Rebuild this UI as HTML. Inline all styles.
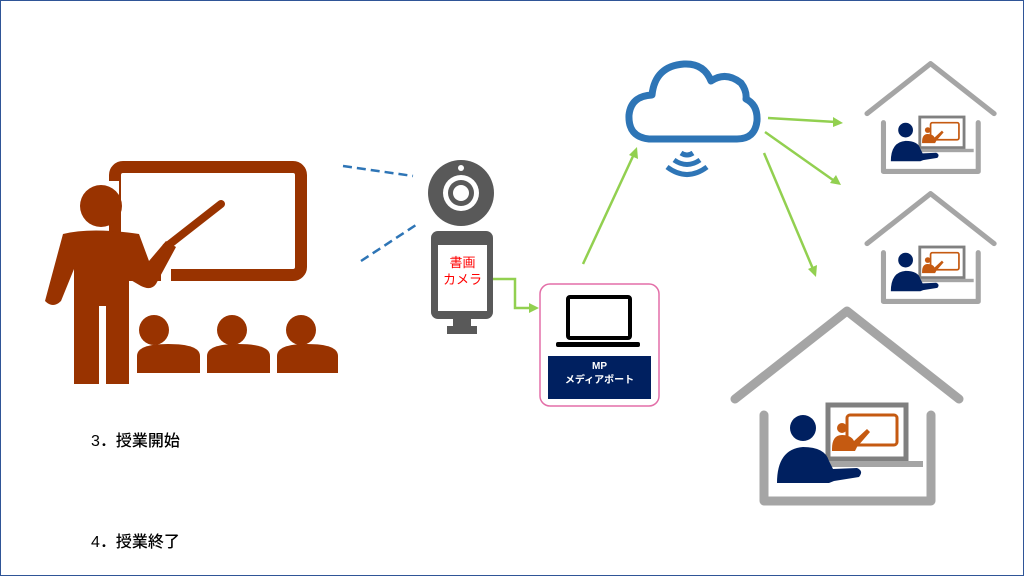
<!DOCTYPE html>
<html><head><meta charset="utf-8"><style>
html,body{margin:0;padding:0;background:#fff}
.wrap{position:relative;width:1024px;height:576px;overflow:hidden;box-sizing:border-box;border:1px solid #2f5597}
svg{position:absolute;left:0;top:0}
.t{position:absolute;font-family:"Liberation Sans","Noto Sans CJK JP",sans-serif;}
</style></head><body><div class="wrap">
<svg width="1024" height="576" viewBox="0 0 1024 576">
<defs>
<symbol id="house" viewBox="0 0 250 215" overflow="visible">
<polyline points="14,98 126,10 238,98" fill="none" stroke="#a5a5a5" stroke-width="9" stroke-linecap="round" stroke-linejoin="round"/>
<polyline points="43,114 43,200 210,200 210,114" fill="none" stroke="#a5a5a5" stroke-width="9" stroke-linecap="round" stroke-linejoin="round"/>
<rect x="107" y="104" width="78" height="54" fill="#fff" stroke="#808080" stroke-width="5"/>
<rect x="126" y="114" width="50" height="30" rx="3" fill="none" stroke="#c55a11" stroke-width="3"/>
<circle cx="121" cy="127" r="5" fill="#c55a11"/>
<path d="M111 148 Q111 134 121 134 Q130 134 133 140 L146 128 L149 131 L136 146 L134 150 L111 150Z" fill="#c55a11"/>
<rect x="100" y="160" width="102" height="6" fill="#a5a5a5"/>
<circle cx="82" cy="127" r="13" fill="#002060"/>
<path d="M56 182 Q56 148 82 146 Q104 146 108 160 L112 168 L136 167 Q143 170 138 176 L113 180 L108 182Z" fill="#002060"/>
</symbol>
</defs>
<!-- teacher -->
<g fill="#993300">
<rect x="114" y="166" width="186" height="108" rx="8" fill="none" stroke="#993300" stroke-width="12"/>
<rect x="100" y="180" width="18" height="30" fill="#fff"/>
<rect x="160" y="268" width="10" height="16" fill="#fff"/>
<circle cx="100" cy="205" r="21"/>
<path d="M62 233 Q90 226 138 233 L148 260 L165 240 L175 246 L155 283 Q150 290 140 285 L128 278 L128 383 L105 383 L105 305 L98 305 L98 383 L73 383 L73 268 L60 300 Q52 308 44 300 Z"/>
<line x1="165" y1="246" x2="220" y2="203" stroke="#993300" stroke-width="8" stroke-linecap="round"/>
<circle cx="153" cy="329" r="15"/><path d="M136 372 L136 355 Q136 343 167 343 Q199 343 199 355 L199 372Z"/>
<circle cx="231" cy="329" r="15"/><path d="M206 372 L206 355 Q206 343 237 343 Q269 343 269 355 L269 372Z"/>
<circle cx="300" cy="329" r="15"/><path d="M276 372 L276 355 Q276 343 306 343 Q337 343 337 355 L337 372Z"/>
</g>
<!-- dashed -->
<line x1="342" y1="165" x2="412" y2="175" stroke="#2e75b6" stroke-width="2.5" stroke-dasharray="9,5"/>
<line x1="360" y1="260" x2="418" y2="222" stroke="#2e75b6" stroke-width="2.5" stroke-dasharray="9,5"/>
<!-- camera -->
<circle cx="460" cy="192" r="33" fill="#595959"/>
<circle cx="460" cy="192" r="18" fill="#fff"/>
<circle cx="460" cy="192" r="13" fill="#595959"/>
<circle cx="460" cy="192" r="8" fill="#fff"/>
<circle cx="460" cy="167" r="3" fill="#fff"/>
<rect x="430" y="230" width="62" height="88" rx="7" fill="#595959"/>
<rect x="437" y="244" width="49" height="66" fill="#fff"/>
<rect x="452" y="317" width="18" height="8" fill="#595959"/>
<rect x="446" y="325" width="30" height="8" fill="#595959"/>
<!-- green arrows -->
<g stroke="#92d050" stroke-width="2.5" fill="none">
<polyline points="492,278 514,278 514,307 530,307"/>
<line x1="582" y1="263" x2="633" y2="153"/>
<line x1="767" y1="117" x2="835" y2="121"/>
<line x1="764" y1="131" x2="832" y2="179"/>
<line x1="763" y1="152" x2="812" y2="268"/>
</g>
<g fill="#92d050">
<polygon points="538,307 528,302 528,312"/>
<polygon points="636,146 637,158 628,154"/>
<polygon points="842,122 832,126 832,116"/>
<polygon points="840,184 829,182 835,174"/>
<polygon points="815,276 807,268 816,264"/>
</g>
<!-- media port box -->
<rect x="539" y="283" width="119" height="122" rx="10" fill="#fff" stroke="#e36fa8" stroke-width="1.5"/>
<rect x="567" y="296" width="62" height="41" rx="2" fill="#fff" stroke="#000" stroke-width="4"/>
<rect x="555" y="341" width="84" height="5" rx="2" fill="#000"/>
<rect x="547" y="355" width="103" height="43" fill="#002060"/>
<!-- cloud -->
<path d="M648 138 Q627 136 628 114 Q630 95 651 94 Q654 65 683 63 Q703 62 710 80 Q725 70 740 82 Q746 90 745 98 Q757 104 756 120 Q754 138 736 138 Z" fill="#fff" stroke="#2e75b6" stroke-width="7" stroke-linejoin="round"/>
<g fill="none" stroke="#2e75b6" stroke-width="5">
<path d="M680 152 Q686 156 692 152"/>
<path d="M673 159 Q686 168 699 159"/>
<path d="M666 166 Q686 181 706 166"/>
</g>
<!-- houses -->
<use href="#house" x="720" y="300" width="250" height="215"/>
<use href="#house" x="858" y="57" width="142" height="122"/>
<use href="#house" x="858" y="187" width="142" height="122"/>
</svg>
<div class="t" style="left:437px;top:253px;width:49px;text-align:center;color:#ff0000;font-size:13px;line-height:17px">書画<br>カメラ</div>
<div class="t" style="left:547px;top:359px;width:103px;text-align:center;color:#fff;font-size:10px;line-height:14px;font-weight:bold">MP<br>メディアポート</div>
<div class="t" style="left:90px;top:426px;font-size:16px;color:#000;font-weight:500">3．授業開始</div>
<div class="t" style="left:90px;top:527px;font-size:16px;color:#000;font-weight:500">4．授業終了</div>
</div></body></html>
